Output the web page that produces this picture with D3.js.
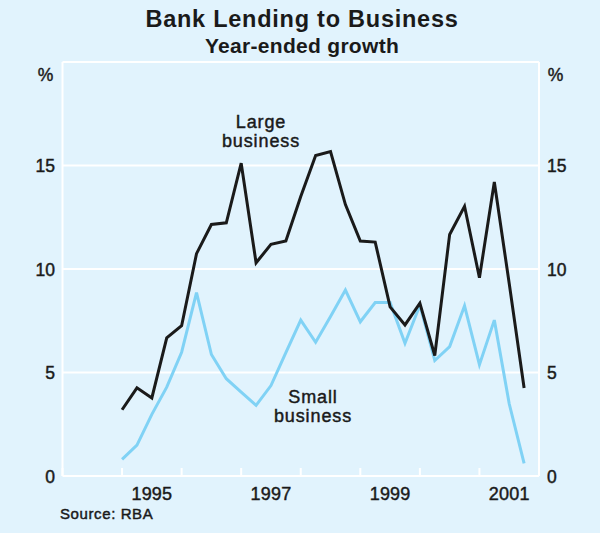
<!DOCTYPE html>
<html>
<head>
<meta charset="utf-8">
<script src="https://cdn.jsdelivr.net/npm/d3@7"></script>
<style>
  html, body { margin: 0; padding: 0; background: #e1f3fd; }
  svg { display: block; }
  text { font-family: "Liberation Sans", Arial, Helvetica, sans-serif; fill: #1a1a1a; }
  .med { stroke: #1a1a1a; stroke-width: 0.45px; }
</style>
</head>
<body>
<svg id="chart" width="600" height="533"></svg>
<script>
// ---- Data ----
const quarters = ["Dec-1994","Mar-1995","Jun-1995","Sep-1995","Dec-1995","Mar-1996","Jun-1996","Sep-1996",
  "Dec-1996","Mar-1997","Jun-1997","Sep-1997","Dec-1997","Mar-1998","Jun-1998","Sep-1998",
  "Dec-1998","Mar-1999","Jun-1999","Sep-1999","Dec-1999","Mar-2000","Jun-2000","Sep-2000",
  "Dec-2000","Mar-2001","Jun-2001","Sep-2001"];
const largeBusiness = [3.2, 4.26, 3.77, 6.67, 7.26, 10.74, 12.15, 12.23, 15.11, 10.3, 11.19, 11.35, 13.5, 15.48,
  15.67, 13.11, 11.35, 11.3, 8.17, 7.3, 8.35, 5.82, 11.67, 13.03, 9.58, 14.2, 9.3, 4.25];
const smallBusiness = [0.8, 1.49, 2.98, 4.29, 5.98, 8.86, 5.87, 4.7, 4.05, 3.41, 4.37, 5.96, 7.53, 6.46,
  7.7, 8.98, 7.45, 8.38, 8.38, 6.41, 8.25, 5.58, 6.25, 8.22, 5.38, 7.53, 3.49, 0.61];
const yTicks = [0, 5, 10, 15, 20];
const yTickLabels = ["0", "5", "10", "15"];
const yearTicks = [1994, 1995, 1996, 1997, 1998, 1999, 2000, 2001, 2002];
const yearLabels = [1995, 1997, 1999, 2001];

const monthIdx = {Mar: 3, Jun: 6, Sep: 9, Dec: 12};
const toYear = q => { const [m, yr] = q.split("-"); return +yr + monthIdx[m] / 12; };

const svg = d3.select("#chart");
const W = 600, H = 533;
const pLeft = 62.5, pRight = 539, pTop = 62, pBottom = 476;

svg.append("rect").attr("width", W).attr("height", H).attr("fill", "#e1f3fd");

const x = d3.scaleLinear().domain([1994, 2002]).range([pLeft, pRight]);
const y = d3.scaleLinear().domain([0, 20]).range([pBottom, pTop]);

// Gridlines
svg.append("g").selectAll("line").data(yTicks).join("line")
  .attr("x1", pLeft).attr("x2", pRight)
  .attr("y1", d => y(d)).attr("y2", d => y(d))
  .attr("stroke", "#ffffff").attr("stroke-width", 2);
// Borders
[pLeft, pRight].forEach(xx => svg.append("line")
  .attr("x1", xx).attr("x2", xx).attr("y1", pTop).attr("y2", pBottom)
  .attr("stroke", "#ffffff").attr("stroke-width", 2));
// Year ticks (upward from axis)
svg.append("g").selectAll("line").data(yearTicks).join("line")
  .attr("x1", d => x(d)).attr("x2", d => x(d))
  .attr("y1", pBottom).attr("y2", pBottom - 8)
  .attr("stroke", "#ffffff").attr("stroke-width", 2);

// Y labels both sides
const yl = svg.append("g").attr("font-size", 17.5).attr("class", "med");
yl.selectAll("text.l").data(yTickLabels).join("text")
  .attr("x", 55).attr("y", d => y(+d) + 6.5).attr("text-anchor", "end").text(d => d);
yl.selectAll("text.r").data(yTickLabels).join("text")
  .attr("x", 547).attr("y", d => y(+d) + 6.5).attr("text-anchor", "start").text(d => d);
yl.append("text").attr("x", 45.5).attr("y", 81).attr("text-anchor", "middle").text("%");
yl.append("text").attr("x", 555.5).attr("y", 81).attr("text-anchor", "middle").text("%");

// Year labels
svg.append("g").attr("font-size", 18).attr("class", "med").attr("letter-spacing", 0.2)
  .selectAll("text").data(yearLabels).join("text")
  .attr("x", d => x(d + 0.5)).attr("y", 500).attr("text-anchor", "middle").text(d => d);

// Lines
const line = d3.line().x(d => x(d[0])).y(d => y(d[1]));
const xs = quarters.map(toYear);
svg.append("path").datum(xs.map((v, i) => [v, smallBusiness[i]]))
  .attr("d", line).attr("fill", "none").attr("stroke", "#80d2f5")
  .attr("stroke-width", 3).attr("stroke-linejoin", "miter");
svg.append("path").datum(xs.map((v, i) => [v, largeBusiness[i]]))
  .attr("d", line).attr("fill", "none").attr("stroke", "#1a1a1a")
  .attr("stroke-width", 3).attr("stroke-linejoin", "miter");

// Series labels
const lab = svg.append("g").attr("font-size", 18).attr("text-anchor", "middle")
  .attr("class", "med").attr("letter-spacing", 0.9);
lab.append("text").attr("x", 261).attr("y", 128).text("Large");
lab.append("text").attr("x", 261).attr("y", 147).text("business");
lab.append("text").attr("x", 313).attr("y", 403).text("Small");
lab.append("text").attr("x", 313).attr("y", 422).text("business");

// Titles
svg.append("text").attr("x", 302).attr("y", 27).attr("text-anchor", "middle")
  .attr("font-size", 23.5).attr("font-weight", "bold").attr("letter-spacing", 0.75)
  .text("Bank Lending to Business");
svg.append("text").attr("x", 302).attr("y", 53).attr("text-anchor", "middle")
  .attr("font-size", 21).attr("font-weight", "bold").attr("letter-spacing", 0.3)
  .text("Year-ended growth");

// Source
svg.append("text").attr("x", 60).attr("y", 519).attr("font-size", 15).attr("class", "med")
  .attr("letter-spacing", 0.6).text("Source: RBA");
</script>
</body>
</html>
